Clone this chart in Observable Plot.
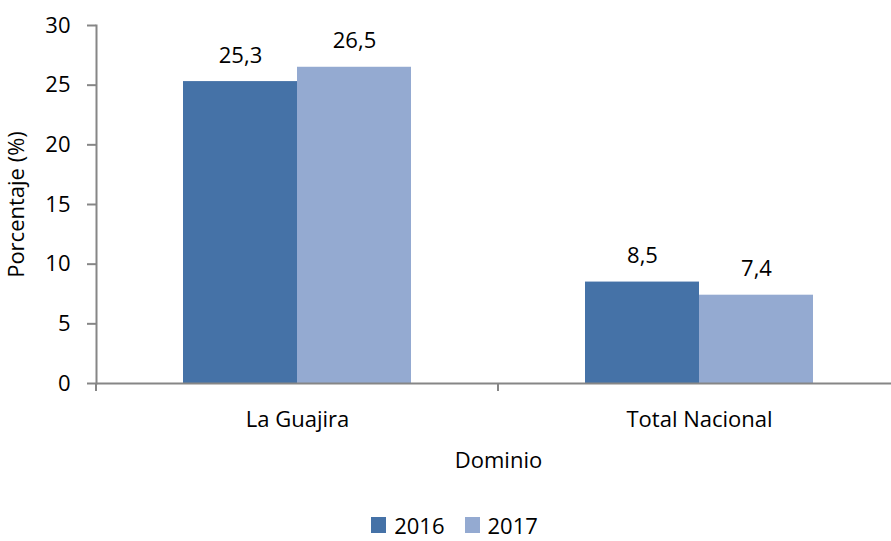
<!DOCTYPE html>
<html>
<head>
<meta charset="utf-8">
<script src="https://cdn.jsdelivr.net/npm/d3@7"></script>
<script src="https://cdn.jsdelivr.net/npm/@observablehq/plot@0.6"></script>
<style>
  html, body { margin: 0; padding: 0; background: #fff; overflow: hidden; }
  #chart { width: 891px; height: 541px; font-family: "Open Sans", sans-serif; }
  #chart svg { display: block; }
  .legend { display: flex; justify-content: center; align-items: center; height: 22px; line-height: 22px; margin-top: 9px; padding-left: 18px; font-size: 22px; color: #000; }
  .legend .item { display: flex; align-items: center; margin: 0 10px; }
  .legend .sw { width: 15px; height: 16px; margin-right: 8px; }
</style>
</head>
<body>
<div id="chart"></div>
<script>
const categories = ["La Guajira", "Total Nacional"];
const years = ["2016", "2017"];
const values2016 = [25.3, 8.5];
const values2017 = [26.5, 7.4];
const yTicks = [0, 5, 10, 15, 20, 25, 30];
const colors = ["#4572A7", "#94AAD1"];
const yLabel = "Porcentaje (%)";
const xLabel = "Dominio";

const data = categories.flatMap((c, i) => [
  {cat: c, year: years[0], value: values2016[i]},
  {cat: c, year: years[1], value: values2017[i]}
]);

const axisGray = "#868686";

const boundaryTick = (index, scales, values, dims) => {
  const g = d3.create("svg:g");
  const y0 = scales.y(0);
  g.append("line")
    .attr("x1", dims.marginLeft).attr("x2", dims.marginLeft)
    .attr("y1", y0).attr("y2", y0 + 8)
    .attr("stroke", axisGray).attr("stroke-width", 2);
  return g.node();
};

const plot = Plot.plot({
  width: 891,
  height: 505,
  marginTop: 25,
  marginBottom: 122,
  marginLeft: 96,
  marginRight: -9,
  style: {fontFamily: '"Open Sans", sans-serif', fontSize: "22px", color: "#000", background: "#fff", overflow: "visible"},
  fx: {domain: categories, padding: 0},
  x: {domain: years, paddingInner: 0, paddingOuter: 0.748, axis: null},
  y: {domain: [0, 30]},
  color: {domain: years, range: colors},
  marks: [
    Plot.barY(data, {fx: "cat", x: "year", y: "value", fill: "year"}),
    Plot.ruleY([0], {stroke: axisGray, strokeWidth: 2}),
    Plot.frame({anchor: "left", facetAnchor: "left", stroke: axisGray, strokeWidth: 2}),
    boundaryTick,
    Plot.text(data, {fx: "cat", x: "year", y: "value", text: d => d.value.toFixed(1).replace(".", ","), dy: -19, lineAnchor: "bottom", fill: "#000", fontSize: 22}),
    Plot.axisY(yTicks, {tickSize: 9, tickPadding: 17, stroke: axisGray, strokeWidth: 2, fill: "#000", label: null}),
    Plot.text([yLabel], {text: d => d, frameAnchor: "left", facetAnchor: "left", rotate: -90, textAnchor: "middle", lineAnchor: "top", dx: -88, fill: "#000", fontSize: 22}),
    Plot.axisFx({anchor: "bottom", tickSize: 0, tickPadding: 28, fill: "#000", label: xLabel, labelAnchor: "center", labelOffset: 84})
  ]
});

const chart = document.getElementById("chart");
chart.appendChild(plot);

const legend = document.createElement("div");
legend.className = "legend";
years.forEach((yr, i) => {
  const item = document.createElement("div");
  item.className = "item";
  const sw = document.createElement("span");
  sw.className = "sw";
  sw.style.background = colors[i];
  item.appendChild(sw);
  item.appendChild(document.createTextNode(yr));
  legend.appendChild(item);
});
chart.appendChild(legend);
</script>
</body>
</html>
